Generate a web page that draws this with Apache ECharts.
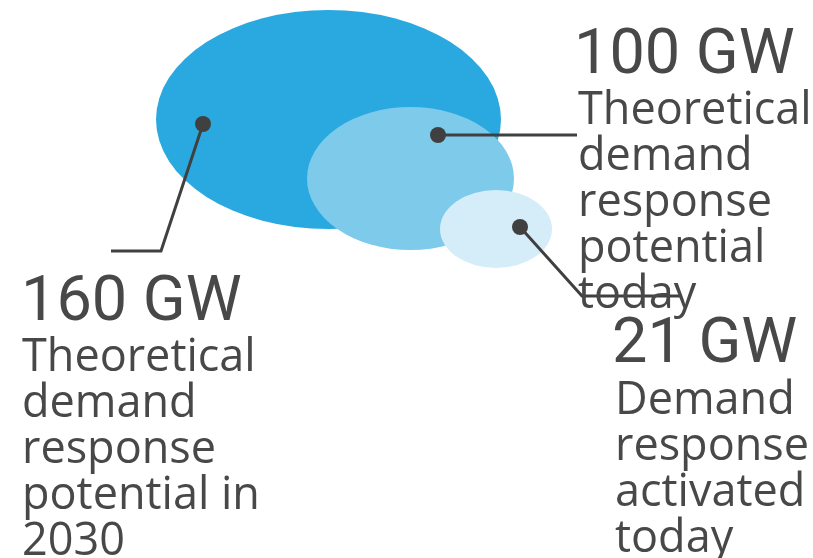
<!DOCTYPE html>
<html>
<head>
<meta charset="utf-8">
<script src="https://cdn.jsdelivr.net/npm/echarts@6/dist/echarts.min.js"></script>
<style>
html,body{margin:0;padding:0;background:#fff;}
#chart{width:813px;height:558px;}
</style>
</head>
<body>
<div id="chart"></div>
<script>
// ---- data ----
const categories = [
  'Theoretical demand response potential in 2030',
  'Theoretical demand response potential today',
  'Demand response activated today'
];
const values = [160, 100, 21];
const unit = 'GW';
const valueLabels = values.map(v => v + ' ' + unit);

// ---- layout (pixel space of hidden axes) ----
const W = 813, H = 558;
const bubbleCenters = [[328.5, 119.5], [410.5, 178.5], [496, 229]];
const bubbleRadii = [[172.5, 109.5], [103.5, 71.5], [56, 39]];
const bubbleColors = ['#29a9e0', '#7dcaeb', '#d4edf9'];
const anchors = [[203, 124], [438, 135], [520, 227]];
const leaders = [
  [[203, 124], [161, 251], [111, 251]],
  [[438, 135], [577, 135]],
  [[520, 227], [582, 296], [682, 296]]
];
const valuePos = [[21, 304], [574, 57], [612, 346]];
const descPos = [[22, 335], [578, 88], [615, 378]];
const descWidth = [250, 240, 200];
const descFont = '45px "Open Sans"';
const textColor = '#484848';
const lineColor = '#404040';

// simple word wrap
const ctx = document.createElement('canvas').getContext('2d');
ctx.font = descFont;
function wrap(text, maxW) {
  const words = text.split(' ');
  const lines = [];
  let cur = '';
  words.forEach(w => {
    const t = cur ? cur + ' ' + w : w;
    if (cur && ctx.measureText(t).width > maxW) { lines.push(cur); cur = w; }
    else cur = t;
  });
  if (cur) lines.push(cur);
  return lines.join('\n');
}

const chart = echarts.init(document.getElementById('chart'), null, {renderer: 'canvas'});

const graphics = [];
values.forEach((v, i) => {
  graphics.push({
    type: 'text', x: valuePos[i][0], y: valuePos[i][1], z: 10, silent: true,
    style: {
      text: valueLabels[i], fill: textColor,
      font: '63px Roboto', verticalAlign: 'middle', align: 'left'
    }
  });
  graphics.push({
    type: 'text', x: descPos[i][0], y: descPos[i][1], z: 10, silent: true,
    style: {
      text: wrap(categories[i], descWidth[i]), fill: textColor,
      font: descFont, lineHeight: 46,
      verticalAlign: 'top', align: 'left'
    }
  });
});

chart.setOption({
  animation: false,
  grid: {left: 0, right: 0, top: 0, bottom: 0},
  xAxis: {type: 'value', min: 0, max: W, show: false},
  yAxis: {type: 'value', min: 0, max: H, inverse: true, show: false},
  series: [
    {
      type: 'scatter', silent: true, z: 1,
      symbol: 'circle',
      data: values.map((v, i) => ({
        name: categories[i],
        value: [bubbleCenters[i][0], bubbleCenters[i][1], v],
        symbolSize: [bubbleRadii[i][0] * 2, bubbleRadii[i][1] * 2],
        itemStyle: {color: bubbleColors[i], opacity: 1}
      })),
      emphasis: {disabled: true}
    },
    {
      type: 'lines', coordinateSystem: 'cartesian2d', polyline: true, silent: true, z: 2,
      lineStyle: {color: lineColor, width: 3, opacity: 1},
      data: leaders.map(c => ({coords: c}))
    },
    {
      type: 'scatter', silent: true, z: 3,
      symbol: 'circle', symbolSize: 16,
      itemStyle: {color: lineColor, opacity: 1},
      data: anchors.map((a, i) => ({value: a, name: categories[i]})),
      emphasis: {disabled: true}
    }
  ],
  graphic: graphics
});
</script>
</body>
</html>
